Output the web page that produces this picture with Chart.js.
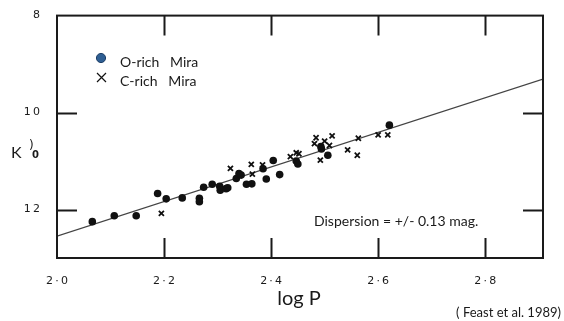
<!DOCTYPE html>
<html>
<head>
<meta charset="utf-8">
<script src="https://cdn.jsdelivr.net/npm/chart.js@4/dist/chart.umd.min.js"></script>
<style>
  html, body { margin: 0; padding: 0; background: #ffffff; }
  #wrap { width: 564px; height: 321px; position: relative; }
</style>
</head>
<body>
<div id="wrap"><canvas id="c" width="564" height="321"></canvas></div>
<script>
// ---- data ----
const oRichLogP = [2.066, 2.107, 2.148, 2.188, 2.204, 2.234, 2.266, 2.266, 2.274, 2.290, 2.304, 2.305, 2.316, 2.319, 2.335, 2.340, 2.344, 2.354, 2.364, 2.385, 2.391, 2.404, 2.416, 2.447, 2.450, 2.493, 2.494, 2.506, 2.621];
const oRichK    = [12.25, 12.13, 12.13, 11.67, 11.78, 11.76, 11.77, 11.84, 11.54, 11.48, 11.52, 11.60, 11.57, 11.55, 11.36, 11.26, 11.29, 11.48, 11.47, 11.16, 11.37, 10.99, 11.28, 11.00, 11.06, 10.70, 10.75, 10.88, 10.26];
const cRichLogP = [2.195, 2.324, 2.363, 2.365, 2.384, 2.436, 2.447, 2.452, 2.484, 2.481, 2.500, 2.514, 2.509, 2.492, 2.543, 2.563, 2.561, 2.600, 2.618];
const cRichK    = [12.08, 11.15, 11.07, 11.27, 11.08, 10.91, 10.83, 10.85, 10.52, 10.64, 10.59, 10.48, 10.68, 10.98, 10.77, 10.53, 10.88, 10.46, 10.46];
const fitLogP = [2.0, 2.908];
const fitK    = [12.55, 9.31];
const xTickValues = [2.0, 2.2, 2.4, 2.6, 2.8];
const xTickLabels = ['2·0', '2·2', '2·4', '2·6', '2·8'];
const xTickMarks  = [2.2, 2.4, 2.6, 2.8];
const yTickValues = [8, 10, 12];
const yTickLabels = ['8', '10', '12'];
const yTickMarks  = [10, 12];
const seriesNames = ['O-rich   Mira', 'C-rich   Mira'];

const toPts = (xs, ys) => xs.map((x, i) => ({ x: x, y: ys[i] }));
const thin = s => s.split('').join('\u2009');

const framePlugin = {
  id: 'frame',
  afterDatasetsDraw(chart) {
    const { ctx, chartArea: a, scales } = chart;
    const xs = scales.x, ys = scales.y;
    ctx.save();
    ctx.strokeStyle = '#1a1a1a';
    ctx.lineWidth = 2;
    ctx.strokeRect(a.left, a.top, a.right - a.left, a.bottom - a.top);
    const L = 20;
    xTickMarks.forEach(v => {
      const p = Math.round(xs.getPixelForValue(v)) + 0.5;
      ctx.beginPath();
      ctx.moveTo(p, a.top); ctx.lineTo(p, a.top + L);
      ctx.moveTo(p, a.bottom); ctx.lineTo(p, a.bottom - L);
      ctx.stroke();
    });
    yTickMarks.forEach(v => {
      const p = Math.round(ys.getPixelForValue(v)) + 0.5;
      ctx.beginPath();
      ctx.moveTo(a.left, p); ctx.lineTo(a.left + L, p);
      ctx.moveTo(a.right, p); ctx.lineTo(a.right - L, p);
      ctx.stroke();
    });
    // legend
    ctx.fillStyle = '#2f5f93';
    ctx.strokeStyle = '#1d3e66';
    ctx.lineWidth = 1;
    ctx.beginPath(); ctx.arc(101, 58, 4.6, 0, Math.PI * 2); ctx.fill(); ctx.stroke();
    ctx.strokeStyle = '#111';
    ctx.lineWidth = 1.2;
    ctx.beginPath();
    ctx.moveTo(97, 73); ctx.lineTo(106, 82);
    ctx.moveTo(106, 73); ctx.lineTo(97, 82);
    ctx.stroke();
    ctx.fillStyle = '#1a1a1a';
    ctx.font = '14px Lato';
    ctx.textBaseline = 'middle';
    ctx.textAlign = 'left';
    ctx.fillText(seriesNames[0], 120, 62);
    ctx.fillText(seriesNames[1], 120, 81);
    // annotation
    ctx.fillText('Dispersion = +/- 0.13 mag.', 314, 221);
    // axis titles
    ctx.font = '16px Lato';
    ctx.fillText('K', 11, 153);
    ctx.font = '12px "DejaVu Sans"';
    ctx.fillText(')', 29, 146);
    ctx.font = 'bold 10px "DejaVu Sans"';
    ctx.fillText('0', 32, 155);
    ctx.font = '20px Lato';
    ctx.textAlign = 'center';
    ctx.fillText('log P', 299, 299);
    ctx.font = '13px Lato';
    ctx.textAlign = 'right';
    ctx.fillText('( Feast et al. 1989)', 561, 313);
    ctx.restore();
  }
};

new Chart(document.getElementById('c'), {
  type: 'scatter',
  data: {
    datasets: [
      {
        label: seriesNames[0],
        data: toPts(oRichLogP, oRichK),
        pointStyle: 'circle',
        pointRadius: 3.8,
        pointHoverRadius: 3.8,
        backgroundColor: '#111',
        borderColor: '#111',
        borderWidth: 0,
        order: 1
      },
      {
        label: seriesNames[1],
        data: toPts(cRichLogP, cRichK),
        pointStyle: 'crossRot',
        pointRadius: 3.6,
        pointHoverRadius: 3.6,
        borderColor: '#111',
        borderWidth: 1.8,
        order: 2
      },
      {
        type: 'line',
        label: 'fit',
        data: toPts(fitLogP, fitK),
        borderColor: '#444',
        borderWidth: 1.2,
        pointRadius: 0,
        fill: false,
        order: 3
      }
    ]
  },
  options: {
    responsive: false,
    animation: false,
    devicePixelRatio: 1,
    layout: { padding: { left: 0, top: 14, right: 21, bottom: 0 } },
    plugins: { legend: { display: false }, tooltip: { enabled: false } },
    scales: {
      x: {
        type: 'linear',
        min: 2.0,
        max: 2.908,
        grid: { display: false },
        border: { display: false },
        afterBuildTicks: s => { s.ticks = xTickValues.map(v => ({ value: v })); },
        afterFit: s => { s.height = 63; },
        ticks: {
          padding: 9,
          color: '#1a1a1a',
          font: { family: 'DejaVu Sans', size: 11 },
          maxRotation: 0,
          callback: (v) => { const i = xTickValues.indexOf(v); return i >= 0 ? thin(xTickLabels[i]) : ''; }
        }
      },
      y: {
        type: 'linear',
        reverse: true,
        min: 8,
        max: 13,
        grid: { display: false },
        border: { display: false },
        afterBuildTicks: s => { s.ticks = yTickValues.map(v => ({ value: v })); },
        afterFit: s => { s.width = 57; },
        ticks: {
          padding: 9,
          color: '#1a1a1a',
          font: { family: 'DejaVu Sans', size: 11 },
          callback: (v) => { const i = yTickValues.indexOf(v); return i >= 0 ? thin(yTickLabels[i]) : ''; }
        }
      }
    }
  },
  plugins: [framePlugin]
});
</script>
</body>
</html>
